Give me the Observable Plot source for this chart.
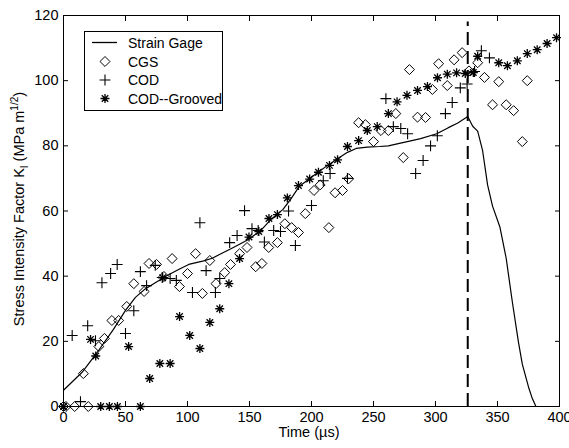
<!DOCTYPE html>
<html>
<head>
<meta charset="utf-8">
<script src="https://cdn.jsdelivr.net/npm/d3@7"></script>
<script src="https://cdn.jsdelivr.net/npm/@observablehq/plot@0.6"></script>
<style>
  html, body { margin: 0; padding: 0; background: white; }
  svg { display: block; }
</style>
</head>
<body>
<div id="chart"></div>
<script>
// ---- data (time in µs, K in MPa m^1/2) ----
const strainT = [0, 15, 27, 40, 50, 58, 65, 74, 84, 94, 101, 113, 120, 127, 137, 148, 159, 167, 177, 183, 190, 197, 205, 213, 221, 229, 236, 245, 255, 262, 270, 280, 288, 301, 310, 318, 326, 330, 334, 338, 342, 346, 352, 357, 362, 367, 370, 375, 378, 381];
const strainK = [5, 10.5, 16.5, 23.5, 29.5, 33.5, 35.8, 38, 40.3, 42.3, 43.6, 44.7, 45.5, 46.9, 48.8, 51, 54, 57.3, 60.5, 63.5, 67.5, 69.5, 71.8, 74, 76, 78, 79.2, 79.6, 79.8, 80, 80.7, 81.5, 82.2, 83.7, 85.5, 87, 89, 86, 84.5, 78.5, 68, 61.5, 55, 45.5, 32, 19.5, 13, 6, 2.5, 0];

const cgsT = [0, 2, 9, 20, 16, 28.5, 33, 39, 44.5, 51, 56.7, 65, 69, 75, 81, 87.6, 93.5, 100, 106.5, 112, 118, 123, 130, 134.7, 142, 148, 155, 160, 165.5, 172.5, 178.5, 184, 189.5, 195, 202, 207, 214, 219, 225, 230, 238, 243.5, 250, 256, 262, 268, 274, 279, 285.5, 292, 297.5, 302.5, 309.5, 315, 321.5, 327, 334, 339.5, 346, 351, 357, 363, 370, 374];
const cgsK = [0, 0, 0, 0, 10.1, 18.4, 20.9, 26.4, 26.4, 30.7, 37.7, 35.3, 43.9, 43.6, 39.9, 45.4, 36.8, 40.8, 46.9, 34.7, 44.8, 37.7, 41.1, 43.6, 46.9, 48.8, 42.9, 43.9, 48.8, 50.3, 56.1, 54.9, 53.4, 59.2, 66.3, 68, 54.9, 65.6, 66.3, 69.9, 87.1, 86.5, 81.3, 84.7, 84.7, 89.9, 76.4, 103.4, 88.8, 88.7, 97.3, 105.2, 98.5, 106.4, 108.6, 103, 105.5, 101, 92.6, 99.7, 92.6, 90.8, 81.3, 100];

const codT = [13.7, 7, 19.5, 25.8, 31, 38, 43.3, 50, 56.7, 62, 67, 74, 79.6, 86, 91, 104, 110, 115, 122.5, 126, 134, 140, 146, 152, 157, 162, 169.5, 175, 181.5, 187, 200, 209.5, 215, 229, 260, 266, 272, 277.5, 284, 290, 296, 301.5, 308, 313.5, 320, 325.5, 331.5, 337, 343.5];
const codK = [1.5, 21.8, 24.8, 20.2, 38, 40.8, 43.6, 22.4, 29.4, 41.4, 37.1, 43.3, 39.6, 39.3, 38.7, 35, 56.4, 41.7, 35, 39.3, 50.3, 52.5, 60.1, 54.6, 54, 50.5, 54, 53.7, 60, 49.4, 61.7, 69.3, 71.5, 70, 94.5, 85.9, 85.3, 83.7, 71.5, 75.5, 80, 83.1, 89.9, 93.3, 97.8, 99, 102.8, 109.2, 107];

const groovedT = [0, 30, 37, 43.5, 62, 21.8, 26, 52.5, 69.5, 77.7, 80, 86, 93.6, 101.8, 110, 118, 126, 133.4, 142, 149.6, 157.5, 165.7, 172.5, 180.5, 189.5, 198.5, 205.6, 214.5, 221, 229, 238, 245, 253, 262, 269, 277, 285.5, 293.5, 301.6, 309.5, 317, 324, 330.5, 334, 351, 358, 366, 374, 382, 390, 397.6];
const groovedK = [0, 0, 0, 0, 0, 20.6, 15.5, 18.4, 8.6, 13.2, 39.5, 13.2, 27.6, 21.8, 17.8, 25.8, 30, 37.7, 45.4, 52, 53.7, 57.7, 58.9, 64, 67.8, 69.8, 71.9, 74, 75.7, 79.8, 81.6, 84.7, 85.9, 89.9, 93.5, 95.5, 97, 98.2, 100.9, 102, 102.4, 102.2, 102.5, 107.5, 105.5, 104.6, 106.1, 108.3, 109.5, 111.4, 113.2];

const crackTime = 326;     // dashed line position
const crackTop = 118;      // dashed line top (K)

const xTicks = [0, 50, 100, 150, 200, 250, 300, 350, 400];
const yTicks = [0, 20, 40, 60, 80, 100, 120];
const seriesNames = ["Strain Gage", "CGS", "COD", "COD--Grooved"];
const xLabel = "Time (µs)";

// ---- tables ----
const strain = strainT.map((t, i) => ({t, k: strainK[i]}));
const cgs = cgsT.map((t, i) => ({t, k: cgsK[i]}));
const cod = codT.map((t, i) => ({t, k: codK[i]}));
const grooved = groovedT.map((t, i) => ({t, k: groovedK[i]}));

// MATLAB-like 8-spoke asterisk
const asterisk8 = {
  draw(ctx, size) {
    const r = Math.sqrt(size / Math.PI);
    const d = r * 0.72;
    ctx.moveTo(-r, 0); ctx.lineTo(r, 0);
    ctx.moveTo(0, -r); ctx.lineTo(0, r);
    ctx.moveTo(-d, -d); ctx.lineTo(d, d);
    ctx.moveTo(-d, d); ctx.lineTo(d, -d);
  }
};

const FONT = "'Liberation Sans', Arial, Helvetica, sans-serif";
const rDiamond = 4.5, rPlus = 3.6, rStar = 4.5;

const chart = Plot.plot({
  width: 569,
  height: 448,
  marginLeft: 63,
  marginRight: 10,
  marginTop: 15,
  marginBottom: 42,
  x: {domain: [0, 400]},
  y: {domain: [0, 120]},
  style: {fontFamily: FONT, fontSize: "14.5px", background: "white", color: "black"},
  marks: [
    Plot.frame({stroke: "black", strokeWidth: 1}),
    Plot.axisX(xTicks, {anchor: "bottom", tickSize: -5, tickPadding: 10, label: null}),
    Plot.axisX(xTicks, {anchor: "top", tickSize: -5, tickFormat: () => "", label: null}),
    Plot.axisY(yTicks, {anchor: "left", tickSize: -5, tickPadding: 10, label: null}),
    Plot.axisY(yTicks, {anchor: "right", tickSize: -5, tickFormat: () => "", label: null}),
    Plot.ruleX([crackTime], {y1: 0, y2: crackTop, stroke: "black", strokeWidth: 2, strokeDasharray: "13,6"}),
    Plot.line(strain, {x: "t", y: "k", stroke: "black", strokeWidth: 1.2}),
    Plot.dot(cgs, {x: "t", y: "k", symbol: "diamond2", r: rDiamond, fill: "none", stroke: "black", strokeWidth: 1}),
    Plot.dot(cod, {x: "t", y: "k", symbol: "plus", r: rPlus, fill: "none", stroke: "black", strokeWidth: 1.1}),
    Plot.dot(grooved, {x: "t", y: "k", symbol: asterisk8, r: rStar, fill: "none", stroke: "black", strokeWidth: 1.3})
  ]
});

document.getElementById("chart").appendChild(chart);

// ---- axis titles and legend ----
const svg = d3.select(chart);

svg.append("text")
  .attr("x", 309).attr("y", 437)
  .attr("text-anchor", "middle")
  .attr("font-family", FONT).attr("font-size", 14.5)
  .attr("fill", "black")
  .text(xLabel);

const yl = svg.append("text")
  .attr("transform", "translate(24,209) rotate(-90)")
  .attr("text-anchor", "middle")
  .attr("font-family", FONT).attr("font-size", 14.5)
  .attr("fill", "black");
yl.append("tspan").text("Stress Intensity Factor K");
yl.append("tspan").attr("font-size", 10).attr("dy", 4).text("I");
yl.append("tspan").attr("dy", -4).text(" (MPa m");
yl.append("tspan").attr("font-size", 10).attr("dy", -6).text("1/2");
yl.append("tspan").attr("dy", 6).text(")");

const lg = svg.append("g");
lg.append("rect").attr("x", 84.5).attr("y", 31.5).attr("width", 138).attr("height", 79)
  .attr("fill", "white").attr("stroke", "black").attr("stroke-width", 1);
const rowY = [42.5, 61.5, 80, 98.5];
lg.append("line").attr("x1", 92).attr("x2", 117).attr("y1", rowY[0]).attr("y2", rowY[0])
  .attr("stroke", "black").attr("stroke-width", 1.3);
const legSyms = [null, [d3.symbolDiamond2, rDiamond, 1], [d3.symbolPlus, rPlus, 1.1], [asterisk8, rStar, 1.3]];
legSyms.forEach((s, i) => {
  if (!s) return;
  lg.append("path")
    .attr("transform", `translate(105,${rowY[i]})`)
    .attr("d", d3.symbol(s[0], Math.PI * s[1] * s[1])())
    .attr("fill", "none").attr("stroke", "black").attr("stroke-width", s[2]);
});
seriesNames.forEach((name, i) => {
  lg.append("text")
    .attr("x", 128).attr("y", rowY[i] + 5)
    .attr("text-anchor", "start")
    .attr("font-family", FONT).attr("font-size", 14)
    .attr("fill", "black")
    .text(name);
});
</script>
</body>
</html>
